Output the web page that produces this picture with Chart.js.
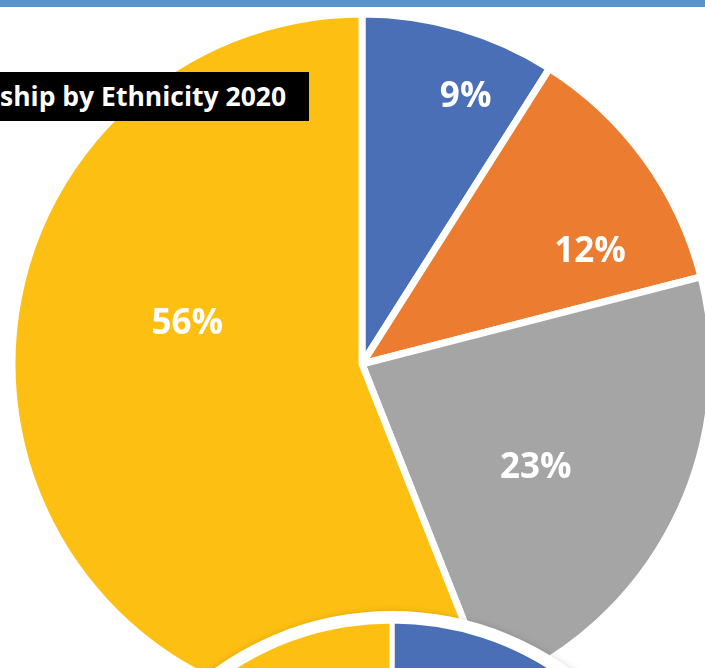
<!DOCTYPE html>
<html>
<head>
<meta charset="utf-8">
<script src="https://cdn.jsdelivr.net/npm/chart.js@4.4.1/dist/chart.umd.min.js"></script>
<style>
    html, body {
        margin: 0;
        padding: 0;
        background: #ffffff;
    }
    #wrap {
        position: relative;
        width: 705px;
        height: 668px;
        overflow: hidden;
        background: #ffffff;
    }
    #topBar {
        position: absolute;
        left: 0;
        top: 0;
        width: 705px;
        height: 7px;
        background: #5a92c9;
        z-index: 5;
    }
    #judul {
        position: absolute;
        left: 0;
        top: 72px;
        width: 309px;
        height: 49px;
        line-height: 49px;
        background: #000000;
        color: #ffffff;
        font-family: "Open Sans", sans-serif;
        font-weight: bold;
        font-size: 26.5px;
        white-space: nowrap;
        z-index: 4;
    }
    #pie1 {
        position: absolute;
        left: 0;
        top: 0;
    }
    #pie2 {
        position: absolute;
        left: 0;
        top: 600px;
        z-index: 3;
    }
</style>
</head>
<body>
<div id="wrap">
    <div id="topBar"></div>
    <canvas id="pie1" width="705" height="668"></canvas>
    <canvas id="pie2" width="784" height="630"></canvas>
    <div id="judul">ship by Ethnicity 2020</div>
</div>

<script>
// ================= DATA =================
const kategori = ["Kelompok A", "Kelompok B", "Kelompok C", "Kelompok D"];
const persen2020 = [9, 12, 23, 56];
const persenBawah = [10, 13, 22, 55]; // pie kedua, cuma bagian atasnya yang kelihatan
const warna = ["#4a6fb7", "#ec7c30", "#a5a5a5", "#fdc012"];

// posisi label: [fraksi sudut dalam slice, fraksi jari-jari]
const posisiLabel = [
    [0.65, 0.824],
    [0.72, 0.728],
    [0.54, 0.575],
    [0.62, 0.513]
];

// ================= PLUGIN LABEL =================
const labelPersen = {
    id: "labelPersen",
    afterDatasetsDraw(chart) {
        const ctx = chart.ctx;
        const meta = chart.getDatasetMeta(0);
        ctx.save();
        ctx.fillStyle = "#ffffff";
        ctx.font = "bold 35px 'Open Sans'";
        ctx.textAlign = "center";
        ctx.textBaseline = "middle";
        meta.data.forEach((arc, i) => {
            const p = arc.getProps(["x", "y", "startAngle", "endAngle", "outerRadius"], true);
            const pos = posisiLabel[i];
            const sudut = p.startAngle + pos[0] * (p.endAngle - p.startAngle);
            const r = pos[1] * p.outerRadius;
            ctx.fillText(persen2020[i] + "%", p.x + Math.cos(sudut) * r, p.y + Math.sin(sudut) * r + 2);
        });
        ctx.restore();
    }
};

// bayangan tipis di cincin putih pie kedua
const bayangan = {
    id: "bayangan",
    beforeDatasetDraw(chart, args) {
        if (args.index !== 0) return;
        const ctx = chart.ctx;
        ctx.save();
        ctx.shadowColor = "rgba(0,0,0,0.22)";
        ctx.shadowBlur = 8;
        ctx.shadowOffsetY = 2;
    },
    afterDatasetDraw(chart, args) {
        if (args.index !== 0) return;
        chart.ctx.restore();
    }
};

// ================= PIE 2020 =================
new Chart(document.getElementById("pie1"), {
    type: "pie",
    data: {
        labels: kategori,
        datasets: [{
            data: persen2020,
            backgroundColor: warna,
            borderColor: "#ffffff",
            borderWidth: 7
        }]
    },
    options: {
        responsive: false,
        animation: false,
        radius: 350,
        layout: { padding: { left: 19, top: 60 } },
        plugins: {
            legend: { display: false },
            tooltip: { enabled: false }
        }
    },
    plugins: [labelPersen]
});

// ================= PIE BAWAH =================
new Chart(document.getElementById("pie2"), {
    type: "pie",
    data: {
        labels: kategori,
        datasets: [
            {
                data: [1],
                backgroundColor: "#ffffff",
                borderWidth: 0,
                weight: 10,
                order: 1
            },
            {
                data: persenBawah,
                backgroundColor: warna,
                borderColor: "#ffffff",
                borderWidth: 5,
                weight: 294,
                order: 0
            }
        ]
    },
    options: {
        responsive: false,
        animation: false,
        radius: 304,
        plugins: {
            legend: { display: false },
            tooltip: { enabled: false }
        }
    },
    plugins: [bayangan]
});
</script>
</body>
</html>
